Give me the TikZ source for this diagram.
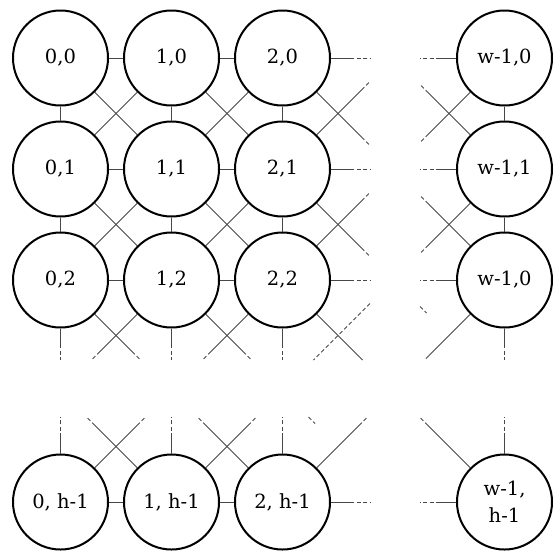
\documentclass[tikz,border=0pt]{standalone}
\usepackage{fontspec}
\setmainfont{DejaVu Serif}
\usetikzlibrary{calc}
\newcommand\stubline[3]{%
  \draw[conn] (#1) -- ($(#2)!#3!(#1.center)$);
  \draw[fade] ($(#2)!#3!(#1.center)$) -- (#2);}
\begin{document}
\begin{tikzpicture}[x=1pt,y=-1pt,
  vtx/.style={circle,draw=black,line width=2pt,minimum size=95pt,inner sep=0pt,
    font=\fontsize{19.5}{27}\selectfont,align=center},
  conn/.style={draw=black!72,line width=0.8pt},
  fade/.style={conn,dash pattern=on 4pt off 2.5pt}]
\useasboundingbox (0,0) rectangle (556,550);
% nodes
\node[vtx] (n00) at (60.5,58) {0,0};
\node[vtx] (n10) at (171.5,58) {1,0};
\node[vtx] (n20) at (282.5,58) {2,0};
\node[vtx] (n40) at (504.5,58) {w-1,0};
\node[vtx] (n01) at (60.5,169) {0,1};
\node[vtx] (n11) at (171.5,169) {1,1};
\node[vtx] (n21) at (282.5,169) {2,1};
\node[vtx] (n41) at (504.5,169) {w-1,1};
\node[vtx] (n02) at (60.5,280) {0,2};
\node[vtx] (n12) at (171.5,280) {1,2};
\node[vtx] (n22) at (282.5,280) {2,2};
\node[vtx] (n42) at (504.5,280) {w-1,0};
\node[vtx] (n04) at (60.5,502) {0, h-1};
\node[vtx] (n14) at (171.5,502) {1, h-1};
\node[vtx] (n24) at (282.5,502) {2, h-1};
\node[vtx] (n44) at (504.5,502) {w-1,\\h-1};
% full connectors
\foreach \j in {0,1,2,4}{
  \draw[conn] (n0\j) -- (n1\j);
  \draw[conn] (n1\j) -- (n2\j);}
\foreach \i in {0,1,2,4}{
  \draw[conn] (n\i0) -- (n\i1);
  \draw[conn] (n\i1) -- (n\i2);}
\draw[conn] (n00) -- (n11); \draw[conn] (n10) -- (n01);
\draw[conn] (n10) -- (n21); \draw[conn] (n20) -- (n11);
\draw[conn] (n01) -- (n12); \draw[conn] (n11) -- (n02);
\draw[conn] (n11) -- (n22); \draw[conn] (n21) -- (n12);
% free ends: column gap, horizontal
\foreach \j/\y in {0/58,1/169,2/280,4/502}{
  \coordinate (hr\j) at (370,\y);
  \coordinate (hl\j) at (420,\y);
  \stubline{n2\j}{hr\j}{20pt}
  \stubline{n4\j}{hl\j}{20pt}}
% column gap, diagonals
\coordinate (d20a) at (370,145.5); \stubline{n20}{d20a}{12pt}
\coordinate (d21a) at (370,81.5);  \stubline{n21}{d21a}{12pt}
\coordinate (d21b) at (370,256.5); \stubline{n21}{d21b}{12pt}
\coordinate (d22a) at (370,192.5); \stubline{n22}{d22a}{12pt}
\coordinate (d40a) at (420,142.5); \stubline{n40}{d40a}{12pt}
\coordinate (d41a) at (420,84.5);  \stubline{n41}{d41a}{12pt}
\coordinate (d41b) at (420,253.5); \stubline{n41}{d41b}{12pt}
\coordinate (d42a) at (420,195.5); \stubline{n42}{d42a}{12pt}
% row gap, verticals
\foreach \i/\x in {0/60.5,1/171.5,2/282.5,4/504.5}{
  \coordinate (vd\i) at (\x,360);
  \coordinate (vu\i) at (\x,417);
  \stubline{n\i2}{vd\i}{16pt}
  \stubline{n\i4}{vu\i}{20pt}}
% row gap, diagonals from row 2
\coordinate (r02a) at (140.5,360); \stubline{n02}{r02a}{12pt}
\coordinate (r12a) at (91.5,360);  \stubline{n12}{r12a}{12pt}
\coordinate (r12b) at (251.5,360); \stubline{n12}{r12b}{12pt}
\coordinate (r22a) at (202.5,360); \stubline{n22}{r22a}{12pt}
\coordinate (r22b) at (362.5,360); \stubline{n22}{r22b}{4pt}
\coordinate (r42a) at (424.5,360); \stubline{n42}{r42a}{6pt}
% row gap, diagonals from bottom row
\coordinate (r04a) at (145.5,417); \stubline{n04}{r04a}{12pt}
\coordinate (r14a) at (86.5,417);  \stubline{n14}{r14a}{12pt}
\coordinate (r14b) at (256.5,417); \stubline{n14}{r14b}{12pt}
\coordinate (r24a) at (197.5,417); \stubline{n24}{r24a}{12pt}
\coordinate (r24b) at (367.5,417); \stubline{n24}{r24b}{12pt}
\coordinate (r44a) at (419.5,417); \stubline{n44}{r44a}{12pt}
% stray dashed pieces
\coordinate (sA1) at (370,303.5); \coordinate (sA2) at (313.5,360);
\draw[fade] (sA1) -- (sA2);
\coordinate (sB1) at (420,306.5); \coordinate (sB2) at (426.5,313);
\draw[fade] (sB1) -- (sB2);
\coordinate (sC1) at (308.5,417); \coordinate (sC2) at (315,423.5);
\draw[fade] (sC1) -- (sC2);
\end{tikzpicture}
\end{document}
